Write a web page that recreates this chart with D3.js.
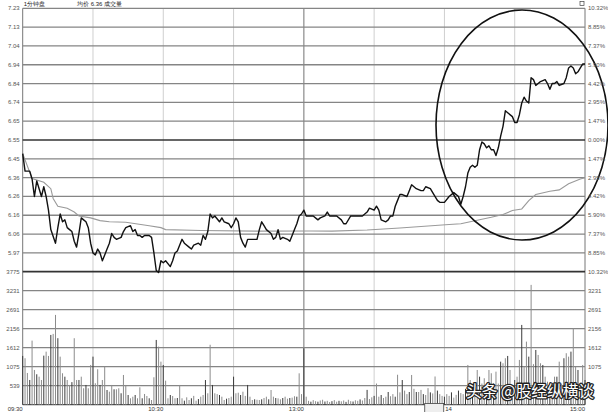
<!DOCTYPE html>
<html><head><meta charset="utf-8">
<script src="https://cdn.jsdelivr.net/npm/d3@7"></script>
<style>html,body{margin:0;padding:0;background:#fff;overflow:hidden}svg{display:block}</style>
</head><body><svg id="c" width="608" height="412"></svg>
<script>
// ---------- data ----------
const prevClose = 6.55;
const priceStep = 0.0966;
const priceTickLabels = ["7.23","7.13","7.04","6.94","6.84","6.74","6.65","6.55","6.45","6.36","6.26","6.16","6.06","5.97","5.87"];
const volTickValues = [539,1078,1617,2156,2695,3234];
const volTickLabels = ["539","1075","1612","2156","2691","3231"];
const volMax = 3773;
const volMaxLabel = "3775";
const timeTickMinutes = [0,60,120,240];
const timeTickLabels = ["09:30","10:30","13:00","15:00"];
const cursorMinute = 178;
const cursorLabel = "13:58";
const afterCursorLabel = "14";
const headerLeft = "1分钟盘";
const headerMid = "均价 6.36 成交量";

const priceMinutes = [0,1,3,4,5,6,7,8,9,10,11,12,14,15,16,17,18,19,20,21,22,23,24,25,26,27,28,29,30,31,32,33,34,35,36,37,38,39,40,42,43,44,46,47,48,49,50,51,52,53,54,55,56,57,58,59,60,61,63,64,65,66,68,69,71,72,73,75,76,77,78,79,80,81,82,84,85,86,88,89,90,91,92,93,94,95,96,98,100,101,102,103,104,106,107,108,109,110,111,113,114,115,116,117,118,119,120,121,123,124,126,127,129,130,131,132,134,136,137,138,140,141,144,145,147,148,150,151,152,153,155,156,157,158,159,160,161,162,164,165,166,168,170,171,172,174,175,177,178,180,182,184,186,187,188,189,190,191,192,193,194,195,196,197,198,199,200,201,202,203,204,205,206,207,209,210,211,212,213,214,215,216,217,218,219,220,221,223,224,225,226,227,228,229,231,232,233,234,235,236,237,238,239,240];
const prices = [6.48,6.39,6.39,6.35,6.26,6.34,6.30,6.26,6.31,6.26,6.19,6.09,6.02,6.10,6.17,6.13,6.14,6.10,6.09,6.08,6.03,6.00,6.07,6.15,6.14,6.13,6.10,6.02,5.97,5.96,5.99,5.97,5.93,5.96,5.99,6.02,6.07,6.05,6.04,6.05,6.08,6.10,6.11,6.08,6.09,6.06,6.06,6.05,6.06,6.06,6.06,6.05,5.97,5.88,5.87,5.93,5.92,5.93,5.90,5.93,5.97,5.98,6.04,6.02,6.00,5.99,6.01,6.02,6.01,6.06,6.04,6.08,6.17,6.15,6.16,6.13,6.15,6.13,6.12,6.10,6.12,6.15,6.13,6.05,6.02,6.00,6.04,6.04,6.04,6.09,6.13,6.11,6.09,6.07,6.04,6.05,6.09,6.04,6.05,6.04,6.03,6.06,6.09,6.12,6.16,6.17,6.19,6.16,6.16,6.16,6.14,6.15,6.16,6.18,6.16,6.16,6.16,6.14,6.12,6.12,6.16,6.16,6.16,6.16,6.18,6.20,6.19,6.21,6.19,6.14,6.13,6.14,6.16,6.16,6.21,6.24,6.27,6.27,6.26,6.29,6.32,6.30,6.29,6.29,6.31,6.30,6.28,6.24,6.23,6.23,6.26,6.28,6.26,6.22,6.26,6.31,6.38,6.41,6.42,6.41,6.42,6.50,6.54,6.53,6.51,6.52,6.50,6.50,6.47,6.51,6.57,6.62,6.70,6.69,6.67,6.64,6.64,6.68,6.74,6.77,6.75,6.74,6.87,6.86,6.83,6.84,6.85,6.86,6.84,6.81,6.84,6.84,6.85,6.83,6.84,6.87,6.92,6.93,6.92,6.89,6.90,6.92,6.94,6.94];

const avgMinutes = [0,4,9,12,13,15,19,22,24,29,33,37,44,54,59,61,76,101,123,132,147,161,182,187,194,200,205,209,213,216,219,225,229,233,238,240];
const avgPrices = [6.480,6.352,6.333,6.300,6.250,6.210,6.200,6.180,6.160,6.150,6.136,6.130,6.128,6.110,6.100,6.090,6.085,6.082,6.083,6.082,6.088,6.098,6.116,6.120,6.138,6.153,6.167,6.188,6.196,6.239,6.270,6.287,6.294,6.325,6.350,6.356];

const volumes = [
1383,1318,900,701,1818,985,863,795,701,1392,
1505,1383,1979,2008,2547,1886,1363,892,795,701,
560,640,1886,701,701,795,466,560,466,1127,
1363,608,1005,560,701,1079,417,369,560,437,
437,466,324,843,560,275,182,227,275,182,
494,182,304,247,182,133,778,1837,1647,1221,
1127,682,182,275,247,182,190,560,182,114,
210,133,182,250,114,160,227,275,700,324,
1700,560,324,300,275,227,133,170,190,227,
795,324,340,275,369,250,560,227,133,153,
140,133,153,190,227,153,417,227,190,180,
153,190,227,170,190,200,240,227,890,300,
1600,227,110,85,130,100,85,120,140,90,
110,75,100,130,85,110,95,120,80,140,
100,90,125,110,150,120,190,420,160,210,
250,600,227,275,190,227,360,240,300,227,
850,350,700,400,300,360,843,450,360,360,
420,300,275,470,350,320,800,400,300,250,
227,300,250,350,200,280,400,330,300,450,
1127,700,400,500,985,795,600,750,500,985,
892,600,937,600,1221,1175,1318,1383,985,500,
700,795,1270,2263,1079,1789,1363,3399,1150,1553,
1411,1175,1127,795,653,560,400,795,795,1221,
600,1318,1460,1363,1505,2170,1079,985,600,1127,
700];

const watermark = "头条 @股经纵横谈";

// ---------- drawing ----------
const svg = d3.select("#c");
const L = 22.7, R = 585;
const pTop = 8.3, pBot = 271.7, vBot = 404.7;

const x = d3.scaleLinear().domain([0,240]).range([L,R]);
const y = d3.scaleLinear().domain([prevClose-7*priceStep, prevClose+7*priceStep]).range([pBot,pTop]);
const yv = d3.scaleLinear().domain([0, volMax]).range([vBot,pBot]);

svg.append("rect").attr("width",608).attr("height",412).attr("fill","#fff");

const priceTickVals = d3.range(15).map(i => prevClose + (7-i)*priceStep);

// vertical grid
const g = svg.append("g");
g.selectAll("line.v").data(d3.range(0,241,30)).join("line")
  .attr("x1",d=>x(d)).attr("x2",d=>x(d)).attr("y1",pTop).attr("y2",vBot)
  .attr("stroke",d=> d===120 ? "#8a8a8a" : (d===0||d===240) ? "#777" : "#cfcfcf")
  .attr("stroke-width",d=> d===120 ? 1.2 : 1);

// horizontal price grid
g.selectAll("line.hp").data(priceTickVals).join("line")
  .attr("x1",L).attr("x2",R).attr("y1",d=>y(d)).attr("y2",d=>y(d))
  .attr("stroke",(d,i)=> (i===7||i===14) ? "#333" : "#858585")
  .attr("stroke-width",(d,i)=> (i===7||i===14) ? 1.7 : 1.3);

// horizontal volume grid
g.selectAll("line.hv").data(volTickValues).join("line")
  .attr("x1",L).attr("x2",R).attr("y1",d=>yv(d)).attr("y2",d=>yv(d))
  .attr("stroke","#858585").attr("stroke-width",1.3);
g.append("line").attr("x1",L).attr("x2",R).attr("y1",yv(0)).attr("y2",yv(0))
  .attr("stroke","#555").attr("stroke-width",1.2);

// volume bars
svg.append("g").selectAll("line").data(volumes).join("line")
  .attr("x1",(d,i)=>x(i)).attr("x2",(d,i)=>x(i))
  .attr("y1",yv(0)).attr("y2",d=>yv(d))
  .attr("stroke",(d,i)=> i%3===0 ? "#3a3a3a" : "#8c8c8c").attr("stroke-width",1);

// average line
svg.append("path").datum(avgMinutes.map((m,i)=>[m,avgPrices[i]]))
  .attr("d",d3.line().x(d=>x(d[0])).y(d=>y(d[1])))
  .attr("fill","none").attr("stroke","#9a9a9a").attr("stroke-width",1.1);

// price line
svg.append("path").datum(priceMinutes.map((m,i)=>[m,prices[i]]))
  .attr("d",d3.line().x(d=>x(d[0])).y(d=>y(d[1])))
  .attr("fill","none").attr("stroke","#111").attr("stroke-width",1.4)
  .attr("stroke-linejoin","round");

// annotation ellipse
svg.append("ellipse").attr("cx",522).attr("cy",125).attr("rx",86).attr("ry",115)
  .attr("fill","none").attr("stroke","#111").attr("stroke-width",1.6);

// left price labels
const lab = svg.append("g").attr("font-family","Liberation Sans, Arial, sans-serif")
  .attr("font-size",6).attr("fill","#555");
lab.selectAll("text.lp").data(priceTickVals.slice(0,14)).join("text")
  .attr("x",L-3).attr("y",d=>y(d)+2).attr("text-anchor","end")
  .text((d,i)=>priceTickLabels[i]);
lab.append("text").attr("x",L-3).attr("y",pBot+2).attr("text-anchor","end").text(volMaxLabel);
lab.selectAll("text.lv").data(volTickValues).join("text")
  .attr("x",L-3).attr("y",d=>yv(d)+2).attr("text-anchor","end")
  .text((d,i)=>volTickLabels[i]);

// right labels
lab.selectAll("text.rp").data(priceTickVals).join("text")
  .attr("x",R+3).attr("y",d=>y(d)+2).attr("text-anchor","start")
  .text(d=> (Math.abs(d-prevClose)/prevClose*100).toFixed(2)+"%");
// lowest right volume label is hidden under the watermark in the reference
lab.selectAll("text.rv").data(volTickValues.slice(1)).join("text")
  .attr("x",R+3).attr("y",d=>yv(d)+2).attr("text-anchor","start")
  .text((d,i)=>volTickLabels[i+1]);

// time labels
lab.selectAll("text.t").data(timeTickMinutes).join("text")
  .attr("x",d=>x(d)).attr("y",410.5).attr("text-anchor","end").attr("fill","#333")
  .text((d,i)=>timeTickLabels[i]);
// cursor time box
const cx0 = x(cursorMinute);
svg.append("rect").attr("x",cx0-15).attr("y",403.5).attr("width",19).attr("height",9)
  .attr("fill","#eee").attr("stroke","#444").attr("stroke-width",0.8);
lab.append("text").attr("x",cx0-5.5).attr("y",410.5).attr("text-anchor","middle").attr("fill","#222").text(cursorLabel);
lab.append("text").attr("x",cx0+5.5).attr("y",410.5).attr("text-anchor","start").attr("fill","#333").text(afterCursorLabel);

// header
lab.append("text").attr("x",L+1).attr("y",6).attr("fill","#222").text(headerLeft);
lab.append("text").attr("x",77).attr("y",6).attr("fill","#222").text(headerMid);
svg.append("rect").attr("x",580).attr("y",1.5).attr("width",4).attr("height",4)
  .attr("fill","none").attr("stroke","#444").attr("stroke-width",0.7);

// watermark
svg.append("text").attr("x",466).attr("y",397)
  .attr("font-family","Noto Sans CJK SC, sans-serif").attr("font-size",16)
  .attr("textLength",128).attr("lengthAdjust","spacingAndGlyphs")
  .attr("fill","#fff").attr("stroke","#222").attr("stroke-width",2.6)
  .attr("paint-order","stroke").attr("stroke-linejoin","round")
  .text(watermark);
</script></body></html>
